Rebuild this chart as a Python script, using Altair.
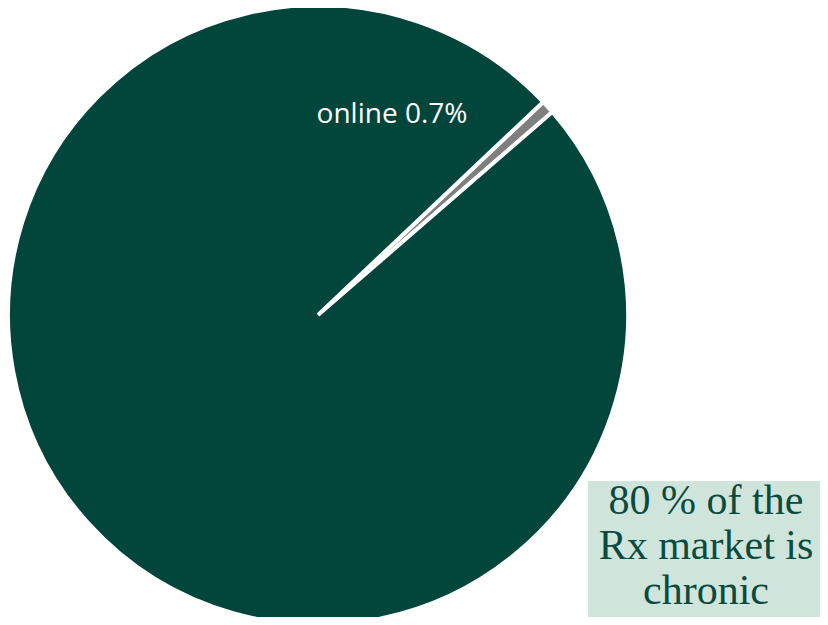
import altair as alt
import pandas as pd

categories = ["online", "other"]
shares = [0.7, 99.3]
order = [0, 1]
label_text = ["online 0.7%"]
box_text = [["80 % of the", "Rx market is", "chronic"]]

df = pd.DataFrame({"category": categories, "share": shares, "order": order})

start = 0.813
pie = alt.Chart(df).mark_arc(
    outerRadius=310, stroke="white", strokeWidth=4
).encode(
    theta=alt.Theta("share:Q", stack=True, scale=alt.Scale(range=[start, start + 6.283185])),
    color=alt.Color("category:N", scale=alt.Scale(domain=categories, range=["#7f7f7f", "#02463b"]), legend=None),
    order=alt.Order("order:Q"),
    x=alt.value(310),
    y=alt.value(307),
)

label = alt.Chart(pd.DataFrame({"t": label_text})).mark_text(
    font="Open Sans", fontSize=28, color="white", align="center", baseline="alphabetic"
).encode(text="t:N", x=alt.value(384), y=alt.value(115))

box = alt.Chart(pd.DataFrame({"a": [1]})).mark_rect(color="#cfe5dc").encode(
    x=alt.value(580), x2=alt.value(812), y=alt.value(473), y2=alt.value(609)
)

box_label = alt.Chart(pd.DataFrame({"t": box_text})).mark_text(
    font="Liberation Serif", fontSize=42, color="#0b4a3e", align="center",
    baseline="alphabetic", lineHeight=45
).encode(text="t", x=alt.value(698), y=alt.value(506))

chart = alt.layer(pie, label, box, box_label).properties(
    width=812, height=609, autosize=alt.AutoSizeParams(type="none"), padding=0
).configure_view(stroke=None)

chart.save("out.html", embed_options={"renderer": "svg", "actions": False})
